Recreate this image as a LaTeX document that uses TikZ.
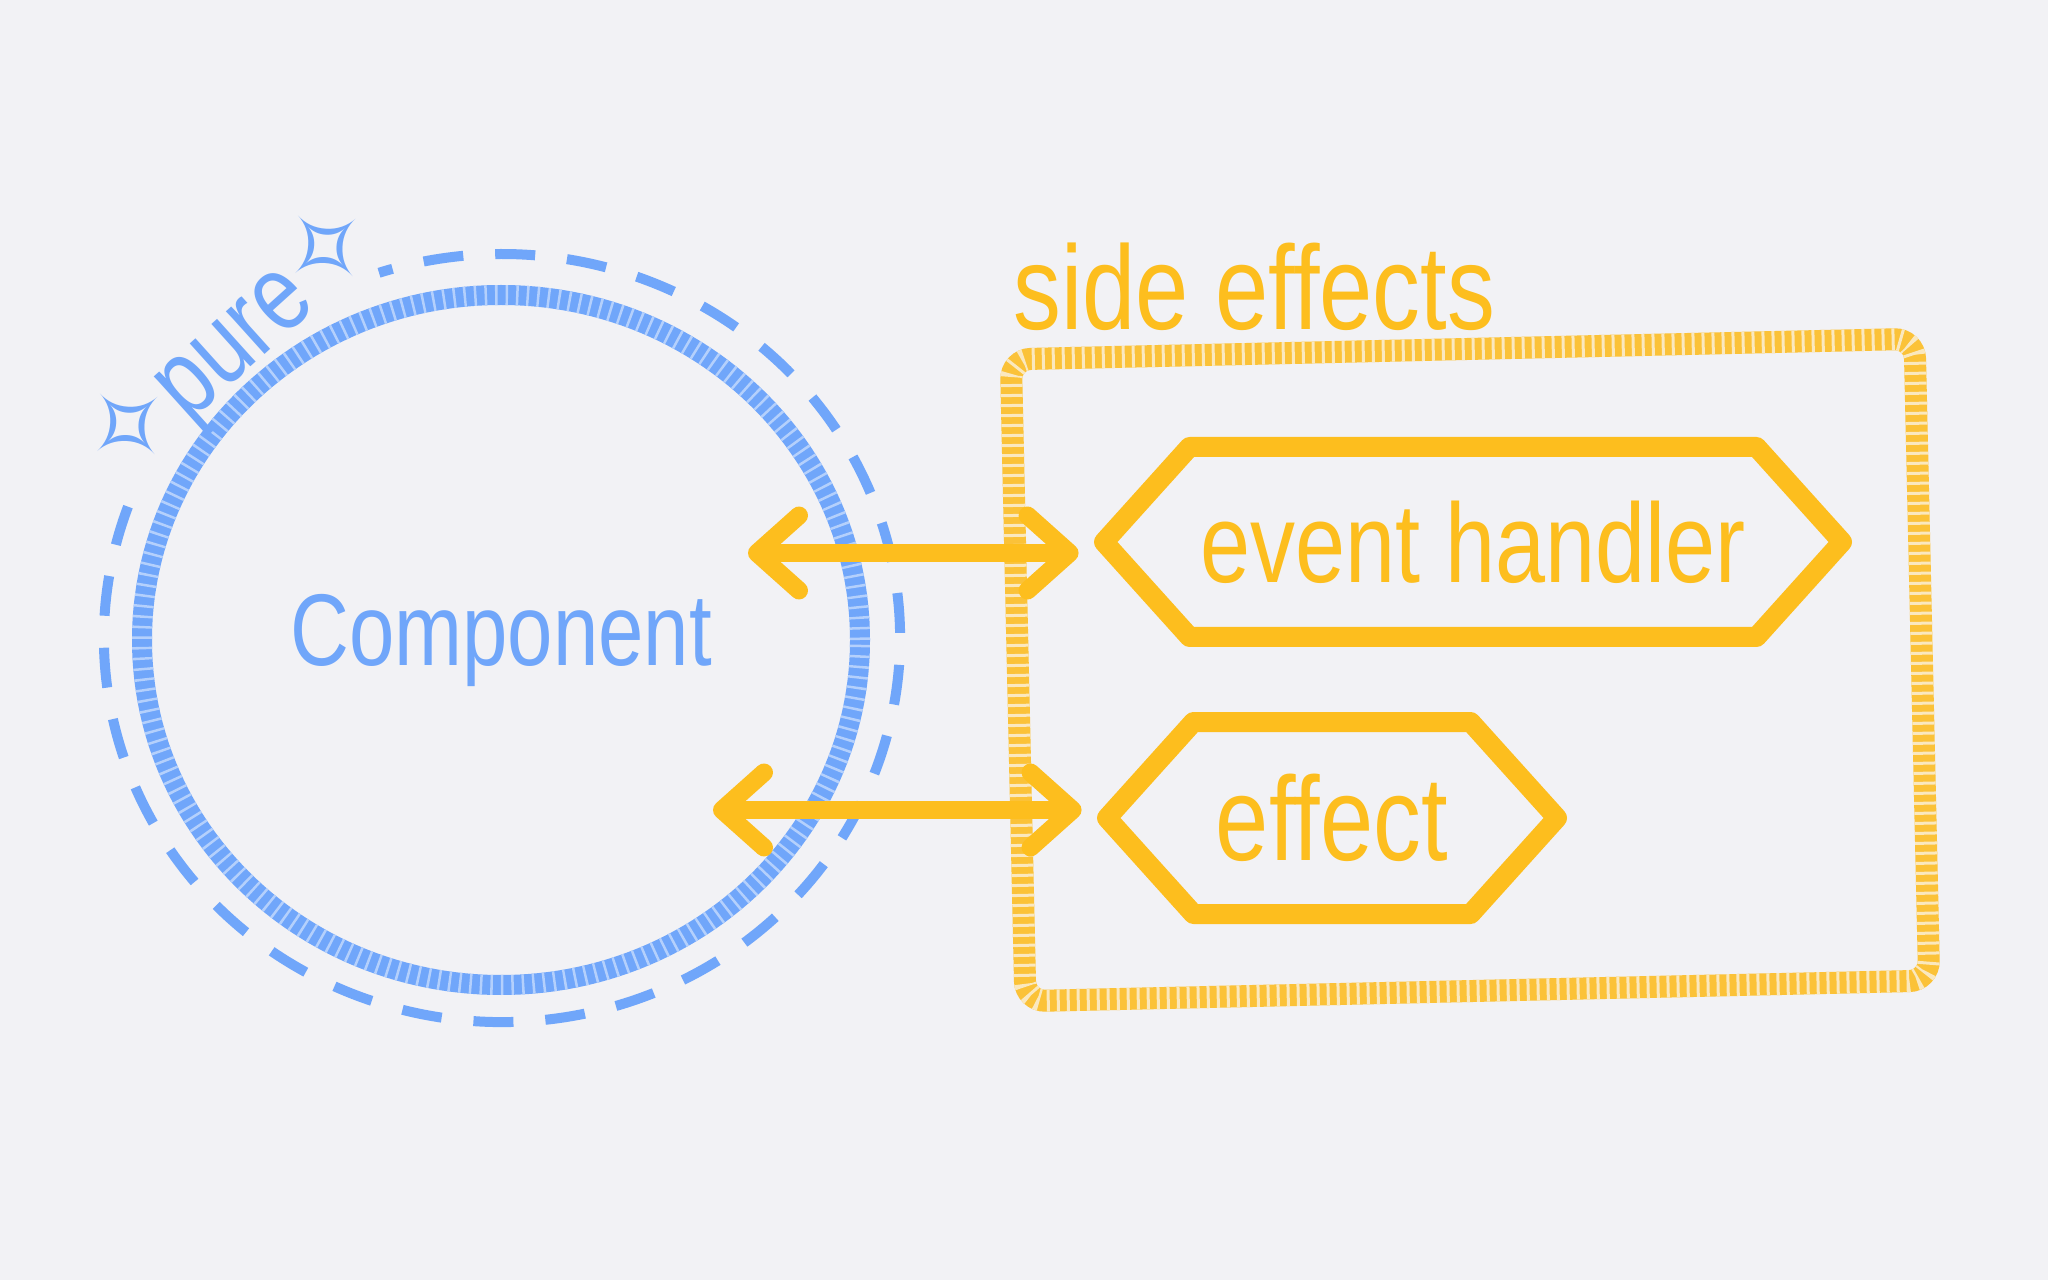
\documentclass[tikz,border=0pt]{standalone}
\usepackage{fontspec}
\setmainfont{Liberation Sans}
\newfontfamily\handfont[FakeStretch=0.8]{Liberation Sans}
\newfontfamily\starfont{DejaVu Sans}
\usepackage{tikz}
\usetikzlibrary{positioning,arrows.meta,shapes.geometric,shapes.symbols}
\definecolor{bgcol}{RGB}{242,242,245}
\definecolor{purecol}{RGB}{112,166,250}
\definecolor{purelight}{RGB}{180,208,252}
\definecolor{fxcol}{RGB}{253,190,30}
\definecolor{fxbox}{RGB}{251,194,56}
\definecolor{fxlight}{RGB}{250,232,190}

\begin{document}
\begin{tikzpicture}[
  x=0.1mm, y=0.1mm,
  >={Straight Barb[length=4.2mm, width=7.5mm, round]},
  hand/.style={font=\handfont\fontsize{#1pt}{#1pt}\selectfont},
  comp/.style={ellipse, draw=purecol, line width=2mm, text=purecol, hand=29,
               postaction={draw=purelight, dash pattern=on 0.25mm off 0.8mm}},
  ring/.style={draw=purecol, line width=1mm, dash pattern=on 4mm off 3.2mm},
  purelbl/.style={text=purecol, hand=31, inner sep=0pt},
  fxframe/.style={rectangle, rounded corners=2mm, draw=fxbox, line width=2.2mm,
                  postaction={draw=fxlight, dash pattern=on 0.3mm off 0.7mm}},
  fxlbl/.style={text=fxcol, hand=34, inner sep=0pt},
  hexa/.style={signal, signal to=east and west, signal pointer angle=96,
               draw=fxcol, line width=2mm, line join=round, text=fxcol,
               hand=32, inner xsep=0pt},
  link/.style={<->, draw=fxcol, line width=1.8mm, line cap=round},
]
\fill[bgcol] (0,0) rectangle (2048,1280);
\useasboundingbox (0,0) rectangle (2048,1280);

% ---------- pure side ----------
\coordinate (ringc) at (502,642);
\draw[ring] ([shift={(160:39.8mm and 38.4mm)}]ringc)
  arc[start angle=160, end angle=468, x radius=39.8mm, y radius=38.4mm];
\node[comp, minimum width=71.8mm, minimum height=69mm] (comp) at (501,640) {Component};
\node[purelbl, rotate=42] (pure) at (234,937) {{\starfont ✧}pure{\starfont ✧}};

% ---------- side effects ----------
\node[fxframe, minimum width=90.4mm, minimum height=64.2mm, rotate=1.3] (fx) at (1470,610) {};
\node[fxlbl, above right=1.7mm and 1.3mm of fx.north west] (fxname) {side effects};

\node[hexa, minimum width=73.8mm, minimum height=19mm] (eh) at (1473,738) {event handler};
\node[hexa, minimum width=45mm, minimum height=19.2mm, hand=34] (eff) at (1332,462) {effect};

% ---------- links ----------
\coordinate (l1) at (748,727);
\coordinate (l2) at (713,470);
\draw[link, shorten >=1.2mm] (l1) -- (l1 -| eh.west);
\draw[link, shorten >=1.2mm] (l2) -- (l2 -| eff.west);

\end{tikzpicture}
\end{document}
